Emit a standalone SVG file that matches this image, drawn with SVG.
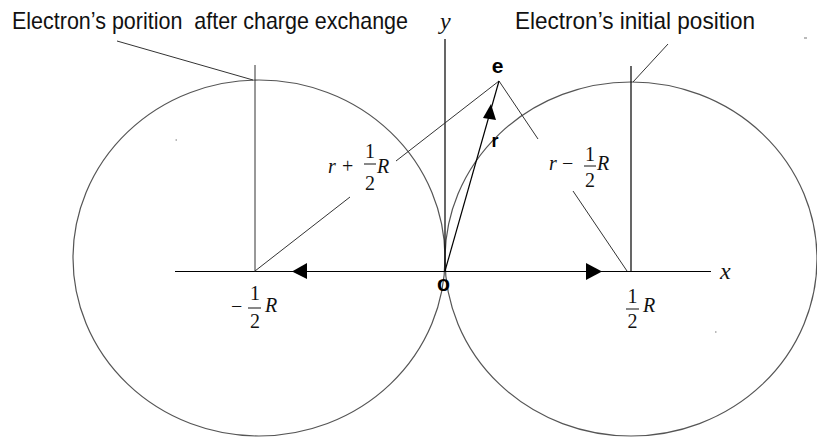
<svg xmlns="http://www.w3.org/2000/svg" width="817" height="438" viewBox="0 0 817 438">
<style>
.bg{fill:#fff}
.ax{stroke:#000;stroke-width:1.2;fill:none}
.ln{stroke:#333;stroke-width:1;fill:none}
.orb{stroke:#555;stroke-width:1.2;fill:none}
.head{fill:#000;stroke:none}
.title{font-family:"Liberation Sans",Arial,sans-serif;font-size:20px;fill:#111}
.math{font-family:"Liberation Serif","Times New Roman",serif;font-size:20px;fill:#111}
.axl{font-family:"Liberation Serif","Times New Roman",serif;font-size:24px;font-style:italic;fill:#111}
.it{font-style:italic}
.bold{font-family:"Liberation Sans",Arial,sans-serif;font-weight:bold;fill:#000}
.bar{stroke:#111;stroke-width:1}
.speck{fill:#777}
</style>
<rect class="bg" x="0" y="0" width="817" height="438"/>

<g id="orbit-left">
<ellipse class="orb" cx="259" cy="258" rx="186" ry="178"/>
</g>
<g id="orbit-right">
<ellipse class="orb" cx="631" cy="259" rx="186" ry="177"/>
</g>

<g id="connectors">
<line class="ax" x1="175" y1="271.5" x2="711" y2="271.5"/>
<line class="ax" x1="445" y1="39" x2="445" y2="272"/>
<line class="ln" x1="255" y1="65" x2="255" y2="271.5"/>
<line class="ax" x1="631" y1="66" x2="631" y2="271.5"/>
<line class="ln" x1="117" y1="41" x2="253" y2="80"/>
<line class="ln" x1="633" y1="82" x2="668" y2="44"/>
<line class="ln" x1="499" y1="81" x2="396" y2="161"/>
<line class="ln" x1="350" y1="197" x2="255" y2="271"/>
<line class="ln" x1="499" y1="81" x2="538" y2="139"/>
<line class="ln" x1="573" y1="191" x2="627" y2="271"/>
<line class="ax" x1="445" y1="271" x2="499" y2="81"/>
<polygon class="head" points="292,271.5 307,263 307,279"/>
<polygon class="head" points="602,271.5 586,263 586,280"/>
<polygon class="head" points="491,104 483,118 496,120"/>
</g>

<g id="label-after">
<text class="title" x="12" y="24.2" transform="scale(1,1.2)" xml:space="preserve" textLength="396" lengthAdjust="spacingAndGlyphs">Electron’s porition  after charge exchange</text>
</g>
<g id="label-initial">
<text class="title" x="515" y="24.2" transform="scale(1,1.2)" textLength="240" lengthAdjust="spacingAndGlyphs">Electron’s initial position</text>
</g>

<g id="axis-y-label">
<text class="axl" x="440" y="29">y</text>
</g>
<g id="axis-x-label">
<text class="axl" x="720" y="279">x</text>
</g>

<g id="electron">
<text class="bold" x="497.5" y="73" font-size="21" text-anchor="middle">e</text>
</g>
<g id="vector-r">
<text class="bold" x="495" y="147" font-size="18" text-anchor="middle">r</text>
</g>
<g id="origin">
<text class="bold" x="443.5" y="291" font-size="22" text-anchor="middle" textLength="13" lengthAdjust="spacingAndGlyphs">o</text>
</g>

<g id="dist-left">
<text class="math it" x="328" y="173">r</text>
<text class="math" x="342" y="173">+</text>
<text class="math" x="370" y="158" text-anchor="middle">1</text>
<line class="bar" x1="364" y1="164" x2="376" y2="164"/>
<text class="math" x="370" y="190" text-anchor="middle">2</text>
<text class="math it" x="377" y="173">R</text>
</g>

<g id="dist-right">
<text class="math it" x="549" y="170">r</text>
<text class="math" x="562" y="170">−</text>
<text class="math" x="590" y="161" text-anchor="middle">1</text>
<line class="bar" x1="584" y1="166" x2="596" y2="166"/>
<text class="math" x="590" y="187" text-anchor="middle">2</text>
<text class="math it" x="597" y="170">R</text>
</g>

<g id="nucleus-left">
<text class="math" x="231" y="313">−</text>
<text class="math" x="255" y="300" text-anchor="middle">1</text>
<line class="bar" x1="248" y1="308" x2="261" y2="308"/>
<text class="math" x="255" y="328" text-anchor="middle">2</text>
<text class="math it" x="265" y="312">R</text>
</g>

<g id="nucleus-right">
<text class="math" x="632.5" y="303" text-anchor="middle">1</text>
<line class="bar" x1="626" y1="309" x2="639" y2="309"/>
<text class="math" x="632.5" y="328" text-anchor="middle">2</text>
<text class="math it" x="643" y="312">R</text>
</g>

<rect class="speck" x="804" y="37.5" width="3" height="1"/>
<rect class="speck" x="175.5" y="139.5" width="1.5" height="1"/>
<rect class="speck" x="715" y="331.5" width="1.5" height="1"/>
</svg>
